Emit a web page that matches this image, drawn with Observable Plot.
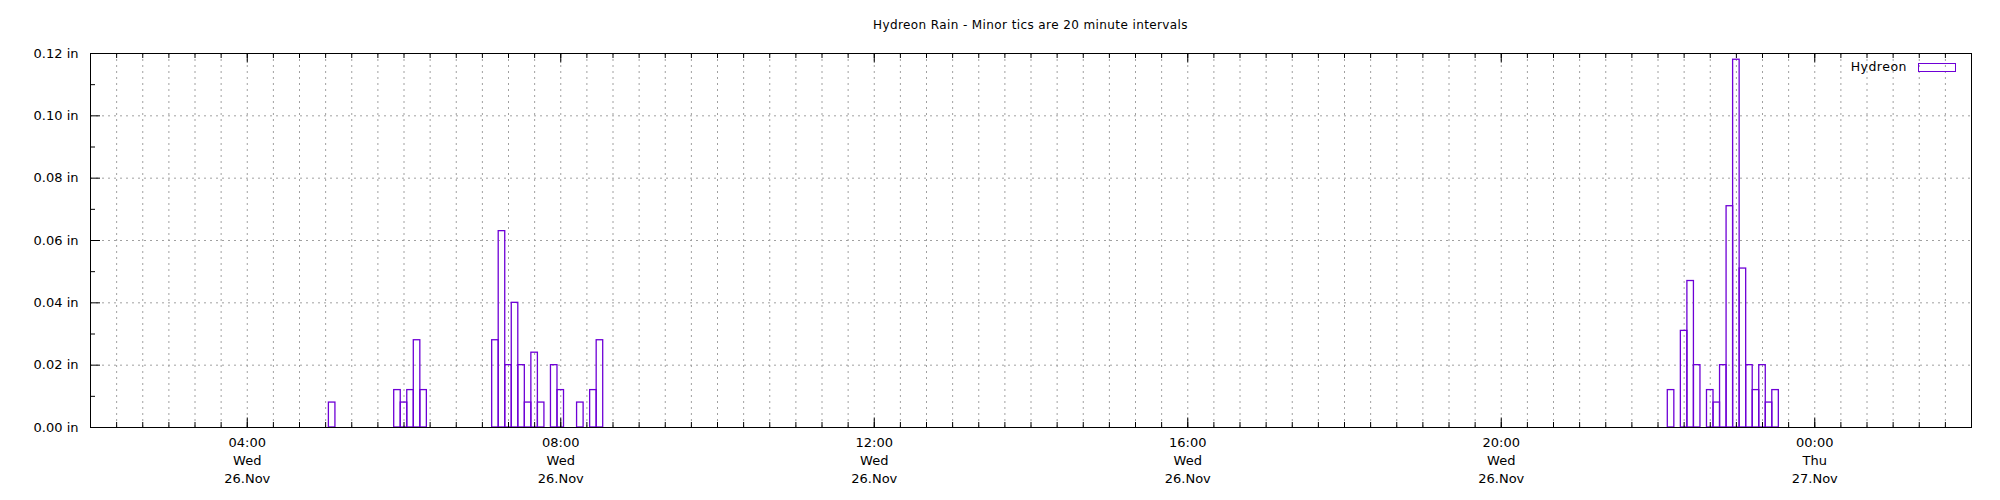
<!DOCTYPE html>
<html>
<head>
<meta charset="utf-8">
<script src="https://cdn.jsdelivr.net/npm/d3@7"></script>
<script src="https://cdn.jsdelivr.net/npm/@observablehq/plot@0.6"></script>
<style>
  body { margin: 0; background: #fff; font-family: "DejaVu Sans", sans-serif; color: #000; }
  #wrap { position: relative; width: 2000px; height: 500px; overflow: hidden; }
  #title { height: 36px; box-sizing: border-box; padding: 19px 29px 0 90px; text-align: center; font-size: 12px; line-height: 13px; letter-spacing: 0.4px; white-space: nowrap; }
  #legend { position: absolute; top: 58px; right: 0; width: 2000px; height: 18px; pointer-events: none; }
  #legend .lab { position: absolute; right: 93px; top: 1px; font-size: 12.5px; line-height: 16px; letter-spacing: 0.5px; }
  #legend .sw { position: absolute; left: 1918px; top: 5px; width: 36px; height: 7px; border: 1.25px solid #6e00d6; }
</style>
</head>
<body>
<div id="wrap">
  <div id="title">Hydreon Rain - Minor tics are 20 minute intervals</div>
  <div id="chart"></div>
  <div id="legend"><span class="lab">Hydreon</span><span class="sw"></span></div>
</div>
<script>
// ---- data (Wed 26 Nov, 5-minute bins) ----
const binTimes = ["05:05",
  "05:55","06:00","06:05","06:10","06:15",
  "07:10","07:15","07:20","07:25","07:30","07:35","07:40","07:45","07:55","08:00","08:15","08:25","08:30",
  "22:10","22:20","22:25","22:30","22:40","22:45","22:50","22:55","23:00","23:05","23:10","23:15","23:20","23:25","23:30"];
const rainInches = [0.008,
  0.012,0.008,0.012,0.028,0.012,
  0.028,0.063,0.020,0.040,0.020,0.008,0.024,0.008,0.020,0.012,0.008,0.012,0.028,
  0.012,0.031,0.047,0.020,0.012,0.008,0.020,0.071,0.118,0.051,0.020,0.012,0.020,0.008,0.012];
const seriesName = "Hydreon";

// ---- axis labels ----
const xMajorTimes = ["04:00","08:00","12:00","16:00","20:00","00:00"];
const xMajorDays  = ["Wed","Wed","Wed","Wed","Wed","Thu"];
const xMajorDates = ["26.Nov","26.Nov","26.Nov","26.Nov","26.Nov","27.Nov"];
const yTickValues = [0, 0.02, 0.04, 0.06, 0.08, 0.10, 0.12];
const yTickLabels = ["0.00 in","0.02 in","0.04 in","0.06 in","0.08 in","0.10 in","0.12 in"];
const yMinorValues = [0.01, 0.03, 0.05, 0.07, 0.09, 0.11];
const xDomainLabels = ["26.Nov 02:00", "27.Nov 02:00"];

// ---- helpers ----
const parseDT = (dateLabel, hm) => {
  const day = +dateLabel.split(".")[0];
  const [h, m] = hm.split(":").map(Number);
  return new Date(Date.UTC(2025, 10, day, h, m));
};
const xStart = parseDT(...xDomainLabels[0].split(" "));
const xEnd = parseDT(...xDomainLabels[1].split(" "));
const rows = binTimes.map((t, i) => ({t: parseDT("26.Nov", t), v: rainInches[i]}));
const half = 2.5 * 60 * 1000;
const majors = xMajorTimes.map((t, i) => ({d: parseDT(xMajorDates[i], t), time: t, day: xMajorDays[i], date: xMajorDates[i]}));
const minors = d3.utcMinute.every(20).range(xStart, new Date(+xEnd + 1));

const W = 2000, H = 464, mt = 17, mb = 73, ml = 90, mr = 29;
const innerH = H - mt - mb, innerW = W - ml - mr;
const color = "#6e00d6";
const minorLen = 5, majorLen = 9.5, yMajorLen = 10, yMinorLen = 5;

const chart = Plot.plot({
  width: W, height: H,
  marginTop: mt, marginBottom: mb, marginLeft: ml, marginRight: mr,
  x: {type: "utc", domain: [xStart, xEnd], axis: null},
  y: {domain: [0, 0.12], axis: null},
  style: {fontFamily: "DejaVu Sans, sans-serif", fontSize: "13px", color: "#000", background: "#fff", overflow: "visible"},
  marks: [
    Plot.ruleX(minors, {x: d => d, stroke: "#a0a0a0", strokeWidth: 1, strokeDasharray: "2,4"}),
    Plot.ruleY(yTickValues.slice(1, -1), {y: d => d, stroke: "#a0a0a0", strokeWidth: 1, strokeDasharray: "2,4"}),
    Plot.rect(rows, {x1: d => new Date(+d.t - half), x2: d => new Date(+d.t + half), y1: 0, y2: "v",
      fill: "none", stroke: color, strokeWidth: 1.3}),
    Plot.frame({stroke: "#000", strokeWidth: 1}),
    // x ticks bottom & top (minor)
    Plot.ruleX(minors, {x: d => d, stroke: "#000", insetTop: innerH - minorLen}),
    Plot.ruleX(minors, {x: d => d, stroke: "#000", insetBottom: innerH - minorLen}),
    // x ticks bottom & top (major)
    Plot.ruleX(majors, {x: "d", stroke: "#000", insetTop: innerH - majorLen}),
    Plot.ruleX(majors, {x: "d", stroke: "#000", insetBottom: innerH - majorLen}),
    // y ticks left
    Plot.ruleY(yTickValues, {y: d => d, stroke: "#000", insetRight: innerW - yMajorLen}),
    Plot.ruleY(yMinorValues, {y: d => d, stroke: "#000", insetRight: innerW - yMinorLen}),
    // y labels
    Plot.text(yTickValues, {y: d => d, text: (d, i) => yTickLabels[i], frameAnchor: "left", textAnchor: "end", dx: -12, fill: "#000"}),
    // x labels (three lines)
    Plot.text(majors, {x: "d", text: "time", frameAnchor: "bottom", dy: 19.5, fill: "#000"}),
    Plot.text(majors, {x: "d", text: "day", frameAnchor: "bottom", dy: 37.2, fill: "#000"}),
    Plot.text(majors, {x: "d", text: "date", frameAnchor: "bottom", dy: 55, fill: "#000"})
  ]
});
document.getElementById("chart").appendChild(chart);
document.querySelector("#legend .lab").textContent = seriesName;
</script>
</body>
</html>
